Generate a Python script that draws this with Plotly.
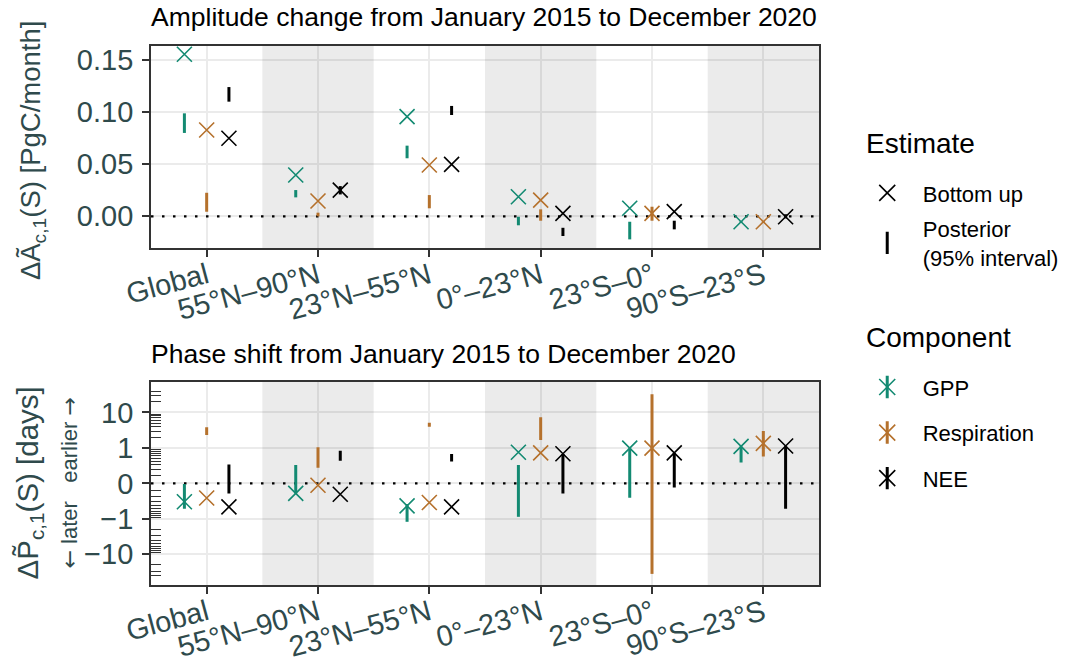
import numpy as np
import plotly.graph_objects as go

regions = ["Global", "55°N–90°N", "23°N–55°N", "0°–23°N", "23°S–0°", "90°S–23°S"]
components = ["GPP", "Respiration", "NEE"]
colours = {"GPP": "#138a72", "Respiration": "#b5712c", "NEE": "#000000"}
dodge = {"GPP": -0.2, "Respiration": 0.0, "NEE": 0.2}

# amplitude change [PgC/month]: bottom-up estimate and posterior 95% interval
amp_bottom_up = {
    "GPP": [0.1555, 0.0396, 0.0956, 0.0188, 0.0077, -0.0052],
    "Respiration": [0.0828, 0.0147, 0.0492, 0.0156, 0.0029, -0.0052],
    "NEE": [0.0749, 0.0252, 0.0499, 0.0029, 0.0045, -0.0004],
}
amp_post_lower = {
    "GPP": [0.0800, 0.0182, 0.0557, -0.0086, -0.0221, -0.0058],
    "Respiration": [0.0044, 0.0000, 0.0077, -0.0042, -0.0042, -0.0058],
    "NEE": [0.1100, 0.0210, 0.0972, -0.0189, -0.0125, -0.0020],
}
amp_post_upper = {
    "GPP": [0.0988, 0.0252, 0.0678, -0.0004, -0.0052, -0.0046],
    "Respiration": [0.0226, 0.0035, 0.0204, 0.0067, 0.0092, -0.0046],
    "NEE": [0.1240, 0.0290, 0.1059, -0.0110, -0.0042, 0.0020],
}

# phase shift [days]
phase_bottom_up = {
    "GPP": [-0.30, -0.14, -0.41, 0.74, 0.98, 1.10],
    "Respiration": [-0.22, -0.025, -0.32, 0.71, 0.98, 1.34],
    "NEE": [-0.44, -0.155, -0.44, 0.67, 0.71, 1.12],
}
phase_post_lower = {
    "GPP": [-0.50, -0.14, -1.21, -0.87, -0.215, 0.36],
    "Respiration": [2.30, 0.24, 3.97, 1.67, -36.0, 0.56],
    "NEE": [-0.14, 0.41, 0.39, -0.14, -0.055, -0.50],
}
phase_post_upper = {
    "GPP": [-0.01, 0.30, -0.36, 0.30, 0.97, 1.08],
    "Respiration": [3.82, 1.03, 5.16, 7.30, 33.0, 3.00],
    "NEE": [0.31, 0.82, 0.66, 0.66, 0.70, 1.10],
}

amp_ticks = [0.0, 0.05, 0.10, 0.15]
amp_range = [-0.0304, 0.1634]
phase_ticks = [-10, -1, 0, 1, 10]
phase_ticktext = ["\u221210", "\u22121", "0", "1", "10"]
phase_minor = [0.1, 0.2, 0.3, 0.4, 0.5, 0.6, 0.7, 0.8, 0.9,
               2, 3, 4, 5, 6, 7, 8, 9, 20, 30, 40]
phase_range = [-2.87, 2.87]  # in transformed units

FONT = "Liberation Sans, Arial, sans-serif"
TEXT_COL = "#2f4a4c"


def pseudo_log(v, sigma=0.1):
    """Pseudo-log (asinh) transform, as the phase axis uses."""
    return np.arcsinh(np.asarray(v, dtype=float) / (2 * sigma)) / np.log(10)


def interval_xy(xpos, lower, upper):
    xs, ys = [], []
    for x, lo, hi in zip(xpos, lower, upper):
        xs += [x, x, None]
        ys += [lo, hi, None]
    return xs, ys


fig = go.Figure()

panels = [
    ("x", "y", amp_range, amp_bottom_up, amp_post_lower, amp_post_upper, lambda v: np.asarray(v)),
    ("x2", "y2", phase_range, phase_bottom_up, phase_post_lower, phase_post_upper, pseudo_log),
]
for xa, ya, yr, bu, lo, hi, tf in panels:
    # shaded bands behind every second region
    band_x = list(range(1, len(regions), 2))
    fig.add_trace(go.Bar(
        x=band_x, y=[yr[1] - yr[0]] * len(band_x), base=yr[0], width=1, xaxis=xa, yaxis=ya,
        marker=dict(color="rgba(0,0,0,0.08)", line_width=0), showlegend=False, hoverinfo="skip",
    ))
    # dotted zero line
    fig.add_trace(go.Scatter(
        x=[-0.5, len(regions) - 0.5], y=[0, 0], mode="lines", xaxis=xa, yaxis=ya,
        line=dict(color="black", width=2.2, dash="2.5px,8.5px"), showlegend=False, hoverinfo="skip",
    ))
    for comp in components:
        xpos = [i + dodge[comp] for i in range(len(regions))]
        xs, ys = interval_xy(xpos, tf(lo[comp]), tf(hi[comp]))
        fig.add_trace(go.Scatter(
            x=xs, y=ys, mode="lines", xaxis=xa, yaxis=ya,
            line=dict(color=colours[comp], width=3), showlegend=False, hoverinfo="skip",
        ))
        fig.add_trace(go.Scatter(
            x=xpos, y=tf(bu[comp]), mode="markers", xaxis=xa, yaxis=ya,
            marker=dict(symbol="x-thin", size=15, line=dict(color=colours[comp], width=1.6)),
            showlegend=False, name=comp,
        ))

# legend entries (empty traces)
fig.add_trace(go.Scatter(
    x=[None], y=[None], mode="markers", name="Bottom up", legend="legend", legendgroup="bu",
    marker=dict(symbol="x-thin", size=16, line=dict(color="black", width=1.6)),
))
fig.add_trace(go.Scatter(
    x=[None], y=[None], mode="markers", name="Posterior<br>(95% interval)", legend="legend",
    legendgroup="post", marker=dict(symbol="line-ns", size=16, line=dict(color="black", width=3)),
))
for comp in components:
    fig.add_trace(go.Scatter(
        x=[None], y=[None], mode="markers", name=comp, legend="legend2", legendgroup=comp,
        marker=dict(symbol="x-thin", size=16, line=dict(color=colours[comp], width=1.6)),
    ))
    fig.add_trace(go.Scatter(
        x=[None], y=[None], mode="markers", name=" ", legend="legend3", legendgroup=comp,
        marker=dict(symbol="line-ns", size=16, line=dict(color=colours[comp], width=3)),
    ))

xaxis_style = dict(
    range=[-0.5, 5.5], tickmode="array", tickvals=list(range(len(regions))), ticktext=regions,
    tickangle=-15, ticks="outside", ticklen=7, tickwidth=1.5, tickcolor="#333333",
    ticklabelstandoff=-9, tickfont=dict(size=29, color=TEXT_COL, family=FONT),
    showgrid=True, gridcolor="#ebebeb", gridwidth=1.5, zeroline=False,
    showline=True, mirror=True, linecolor="#333333", linewidth=1.8, automargin=False,
)
yaxis_style = dict(
    ticks="outside", ticklen=7, tickwidth=1.5, tickcolor="#333333", ticklabelstandoff=3,
    tickfont=dict(size=29, color=TEXT_COL, family=FONT),
    showgrid=True, gridcolor="#ebebeb", gridwidth=1.5, zeroline=False,
    showline=True, mirror=True, linecolor="#333333", linewidth=1.8, automargin=False,
)
legend_style = dict(xanchor="left", yanchor="top", bgcolor="rgba(0,0,0,0)", font=dict(size=22),
                    traceorder="grouped", itemwidth=61)

arrow = "<span style='font-family:DejaVu Sans'>{}</span>"

fig.update_layout(
    width=1068, height=653,
    margin=dict(l=143, r=257, t=38, b=76),
    paper_bgcolor="white", plot_bgcolor="white",
    font=dict(family=FONT, size=22, color="black"),
    barmode="overlay",
    xaxis=dict(domain=[0, 1], anchor="y", **xaxis_style),
    yaxis=dict(domain=[0.6252, 1], anchor="x", range=amp_range, tickmode="array",
               tickvals=amp_ticks, tickformat=".2f", **yaxis_style),
    xaxis2=dict(domain=[0, 1], anchor="y2", **xaxis_style),
    yaxis2=dict(domain=[0, 0.3772], anchor="x2", range=phase_range, tickmode="array",
                tickvals=pseudo_log(phase_ticks).tolist(), ticktext=phase_ticktext,
                minor=dict(tickmode="array", tickvals=pseudo_log(
                    [-v for v in phase_minor] + phase_minor).tolist(),
                    ticks="inside", ticklen=10, tickwidth=1, tickcolor="#333333", showgrid=False),
                **yaxis_style),
    legend=dict(x=1.049, y=0.766, tracegroupgap=4, **legend_style),
    legend2=dict(x=1.049, y=0.406, tracegroupgap=14, **legend_style),
    legend3=dict(x=1.049, y=0.406, tracegroupgap=14, **legend_style),
    annotations=[
        dict(text="Amplitude change from January 2015 to December 2020", xref="paper",
             yref="paper", x=-0.003, y=1.054, xanchor="left", yanchor="middle", showarrow=False,
             font=dict(size=26.5, color="black")),
        dict(text="Phase shift from January 2015 to December 2020", xref="paper",
             yref="paper", x=-0.003, y=0.429, xanchor="left", yanchor="middle", showarrow=False,
             font=dict(size=26.5, color="black")),
        dict(text="Estimate", xref="paper", yref="paper", x=1.0674, y=0.820,
             xanchor="left", yanchor="middle", showarrow=False, font=dict(size=28)),
        dict(text="Component", xref="paper", yref="paper", x=1.0674, y=0.4583,
             xanchor="left", yanchor="middle", showarrow=False, font=dict(size=28)),
        dict(text="\u0394\u00c3<sub>c,1</sub>(S) [PgC/month]", xref="paper", yref="paper",
             x=-0.178, y=0.807, xanchor="center", yanchor="middle", textangle=-90,
             showarrow=False, font=dict(size=27.5, color=TEXT_COL)),
        dict(text="\u0394P\u0303<sub>c,1</sub>(S) [days]<br><span style='font-size:22px'>"
                  + arrow.format("\u2190") + " later\u00a0\u00a0\u00a0earlier "
                  + arrow.format("\u2192") + "</span>",
             xref="paper", yref="paper", x=-0.1575, y=0.19, xanchor="center", yanchor="middle",
             textangle=-90, showarrow=False, font=dict(size=29.5, color=TEXT_COL)),
    ],
)

fig.write_html("out.html")
